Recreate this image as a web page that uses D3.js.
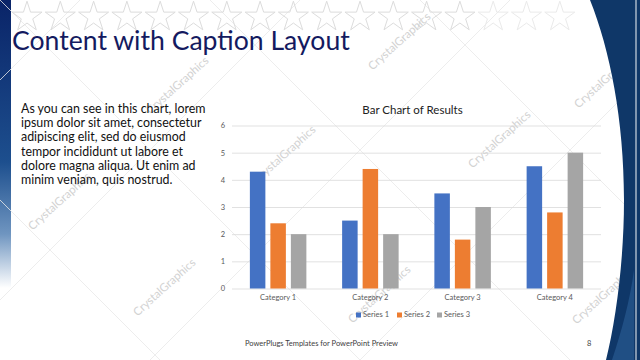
<!DOCTYPE html>
<html><head><meta charset="utf-8">
<script src="https://cdn.jsdelivr.net/npm/d3@7/dist/d3.min.js"></script>
<style>body{margin:0;background:#fff}svg{display:block}</style>
</head><body><svg id="c" width="640" height="360"></svg>
<script>
const categories = ["Category 1","Category 2","Category 3","Category 4"];
const seriesNames = ["Series 1","Series 2","Series 3"];
const series1 = [4.3,2.5,3.5,4.5];
const series2 = [2.4,4.4,1.8,2.8];
const series3 = [2,2,3,5];
const yTicks = [0,1,2,3,4,5,6];
const colors = ["#4472C4","#ED7D31","#A5A5A5"];
const chartTitle = "Bar Chart of Results";
const slideTitle = "Content with Caption Layout";
const captionLines = ["As you can see in this chart, lorem","ipsum dolor sit amet, consectetur","adipiscing elit, sed do eiusmod","tempor incididunt ut labore et","dolore magna aliqua. Ut enim ad","minim veniam, quis nostrud."];
const footer = "PowerPlugs Templates for PowerPoint  Preview";
const pageNum = "8";
const watermark = "CrystalGraphics";

const seriesValues = [series1, series2, series3];
const svg = d3.select("#c");
const F = "Lato, 'Open Sans', sans-serif";

// background decoration
const defs = svg.append("defs");
const lg = defs.append("linearGradient").attr("id","lb").attr("x1",0).attr("y1",0).attr("x2",0).attr("y2",1);
lg.append("stop").attr("offset","0").attr("stop-color","#0a2468");
lg.append("stop").attr("offset","0.45").attr("stop-color","#1d4f8e");
lg.append("stop").attr("offset","0.65").attr("stop-color","#6f95c0");
lg.append("stop").attr("offset","0.8").attr("stop-color","#ffffff");
svg.append("rect").attr("x",0).attr("y",0).attr("width",11).attr("height",360).attr("fill","url(#lb)");

// faint diagonal lines
const diag = svg.append("g").attr("stroke","#e8e8e8").attr("stroke-width",0.8);
[[-60,360,300,0],[150,360,510,0],[360,360,720,0],[-120,200,80,0],[0,0,360,360],[210,0,570,360],[420,0,780,360],[-200,0,160,360]].forEach(l=>{
  diag.append("line").attr("x1",l[0]).attr("y1",l[1]).attr("x2",l[2]).attr("y2",l[3]);
});

// stars
const starG = svg.append("g");
d3.range(17).forEach(i=>{
  starG.append("path").attr("d", d3.symbol(d3.symbolStar, 280)())
    .attr("transform", `translate(${27+i*33.3},17)`)
    .attr("fill","none").attr("stroke", i<14?"#dcdcdc":"#eaeaea").attr("stroke-width",1);
});

// watermarks
const wm = [[178,86],[400,42],[606,80],[60,202],[285,155],[500,140],[165,288],[380,295],[604,296]];
svg.append("g").selectAll("text").data(wm).join("text")
  .attr("transform", d=>`translate(${d[0]},${d[1]}) rotate(-42)`)
  .attr("text-anchor","middle").attr("dominant-baseline","middle")
  .attr("font-family",F).attr("font-size",11.5).attr("fill","#d2d2d2").text(watermark);

// right navy shape
svg.append("path").attr("fill","#0f3768")
  .attr("d","M590,0 L640,0 L640,360 L606,360 C616,320 624,260 624,200 C624,120 610,50 590,0 Z");
svg.append("path").attr("fill","none").attr("stroke","#ffffff").attr("stroke-width",1.2).attr("opacity",0.8)
  .attr("d","M636,0 L636,360");
svg.append("path").attr("fill","#2b5f98").attr("opacity",0.6)
  .attr("d","M612,360 C622,330 630,300 634,270 L634,360 Z");

// slide title
svg.append("text").attr("x",12).attr("y",50).attr("font-family",F).attr("font-size",26.6)
  .attr("fill","#141a60").text(slideTitle);

// caption
svg.append("g").selectAll("text").data(captionLines).join("text")
  .attr("x",21).attr("y",(d,i)=>113+i*14.2).attr("font-family",F).attr("font-size",12.4)
  .attr("fill","#111").text(d=>d);

// chart
const x = d3.scaleBand().domain(categories).range([232,601]).paddingInner(0).paddingOuter(0);
const xs = d3.scaleBand().domain(seriesNames).range([0,x.bandwidth()]).paddingInner(0.244).paddingOuter(0.872);
const y = d3.scaleLinear().domain([0,6]).range([288.5,125.5]);

const grid = svg.append("g").attr("transform","translate(232,0)")
  .call(d3.axisLeft(y).tickValues(yTicks).tickSize(-369).tickFormat(""));
grid.select(".domain").remove();
grid.selectAll("line").attr("stroke","#d9d9d9").attr("stroke-width",0.8);

const ya = svg.append("g").attr("transform","translate(232,0)")
  .call(d3.axisLeft(y).tickValues(yTicks).tickSize(0).tickPadding(7).tickFormat(d3.format("d")));
ya.select(".domain").remove();
ya.selectAll("text").attr("font-family",F).attr("font-size",7.5).attr("fill","#595959");

const xa = svg.append("g").attr("transform","translate(0,288.5)")
  .call(d3.axisBottom(x).tickSize(0).tickPadding(6));
xa.select(".domain").remove();
xa.selectAll("text").attr("font-family",F).attr("font-size",7.5).attr("fill","#595959");

const data = [];
categories.forEach((c,ci)=>seriesNames.forEach((s,si)=>data.push({c,s,si,v:seriesValues[si][ci]})));
svg.append("g").selectAll("rect").data(data).join("rect")
  .attr("x",d=>x(d.c)+xs(d.s)).attr("width",xs.bandwidth())
  .attr("y",d=>y(d.v)).attr("height",d=>y(0)-y(d.v)).attr("fill",d=>colors[d.si]);

svg.append("text").attr("x",412.5).attr("y",114).attr("text-anchor","middle")
  .attr("font-family",F).attr("font-size",11.5).attr("fill","#222").text(chartTitle);

// legend
const legX = [356,397,437];
const leg = svg.append("g").selectAll("g").data(seriesNames).join("g")
  .attr("transform",(d,i)=>`translate(${legX[i]},315)`);
leg.append("rect").attr("x",0).attr("y",-2.5).attr("width",5).attr("height",5).attr("fill",(d,i)=>colors[i]);
leg.append("text").attr("x",7).attr("y",0).attr("dominant-baseline","middle")
  .attr("font-family",F).attr("font-size",7.5).attr("fill","#595959").text(d=>d);

// footer
svg.append("text").attr("x",245).attr("y",346).attr("font-family",F).attr("font-size",7.5)
  .attr("fill","#404040").text(footer);
svg.append("text").attr("x",587).attr("y",346).attr("font-family",F).attr("font-size",7.5)
  .attr("fill","#404040").text(pageNum);
</script></body></html>
